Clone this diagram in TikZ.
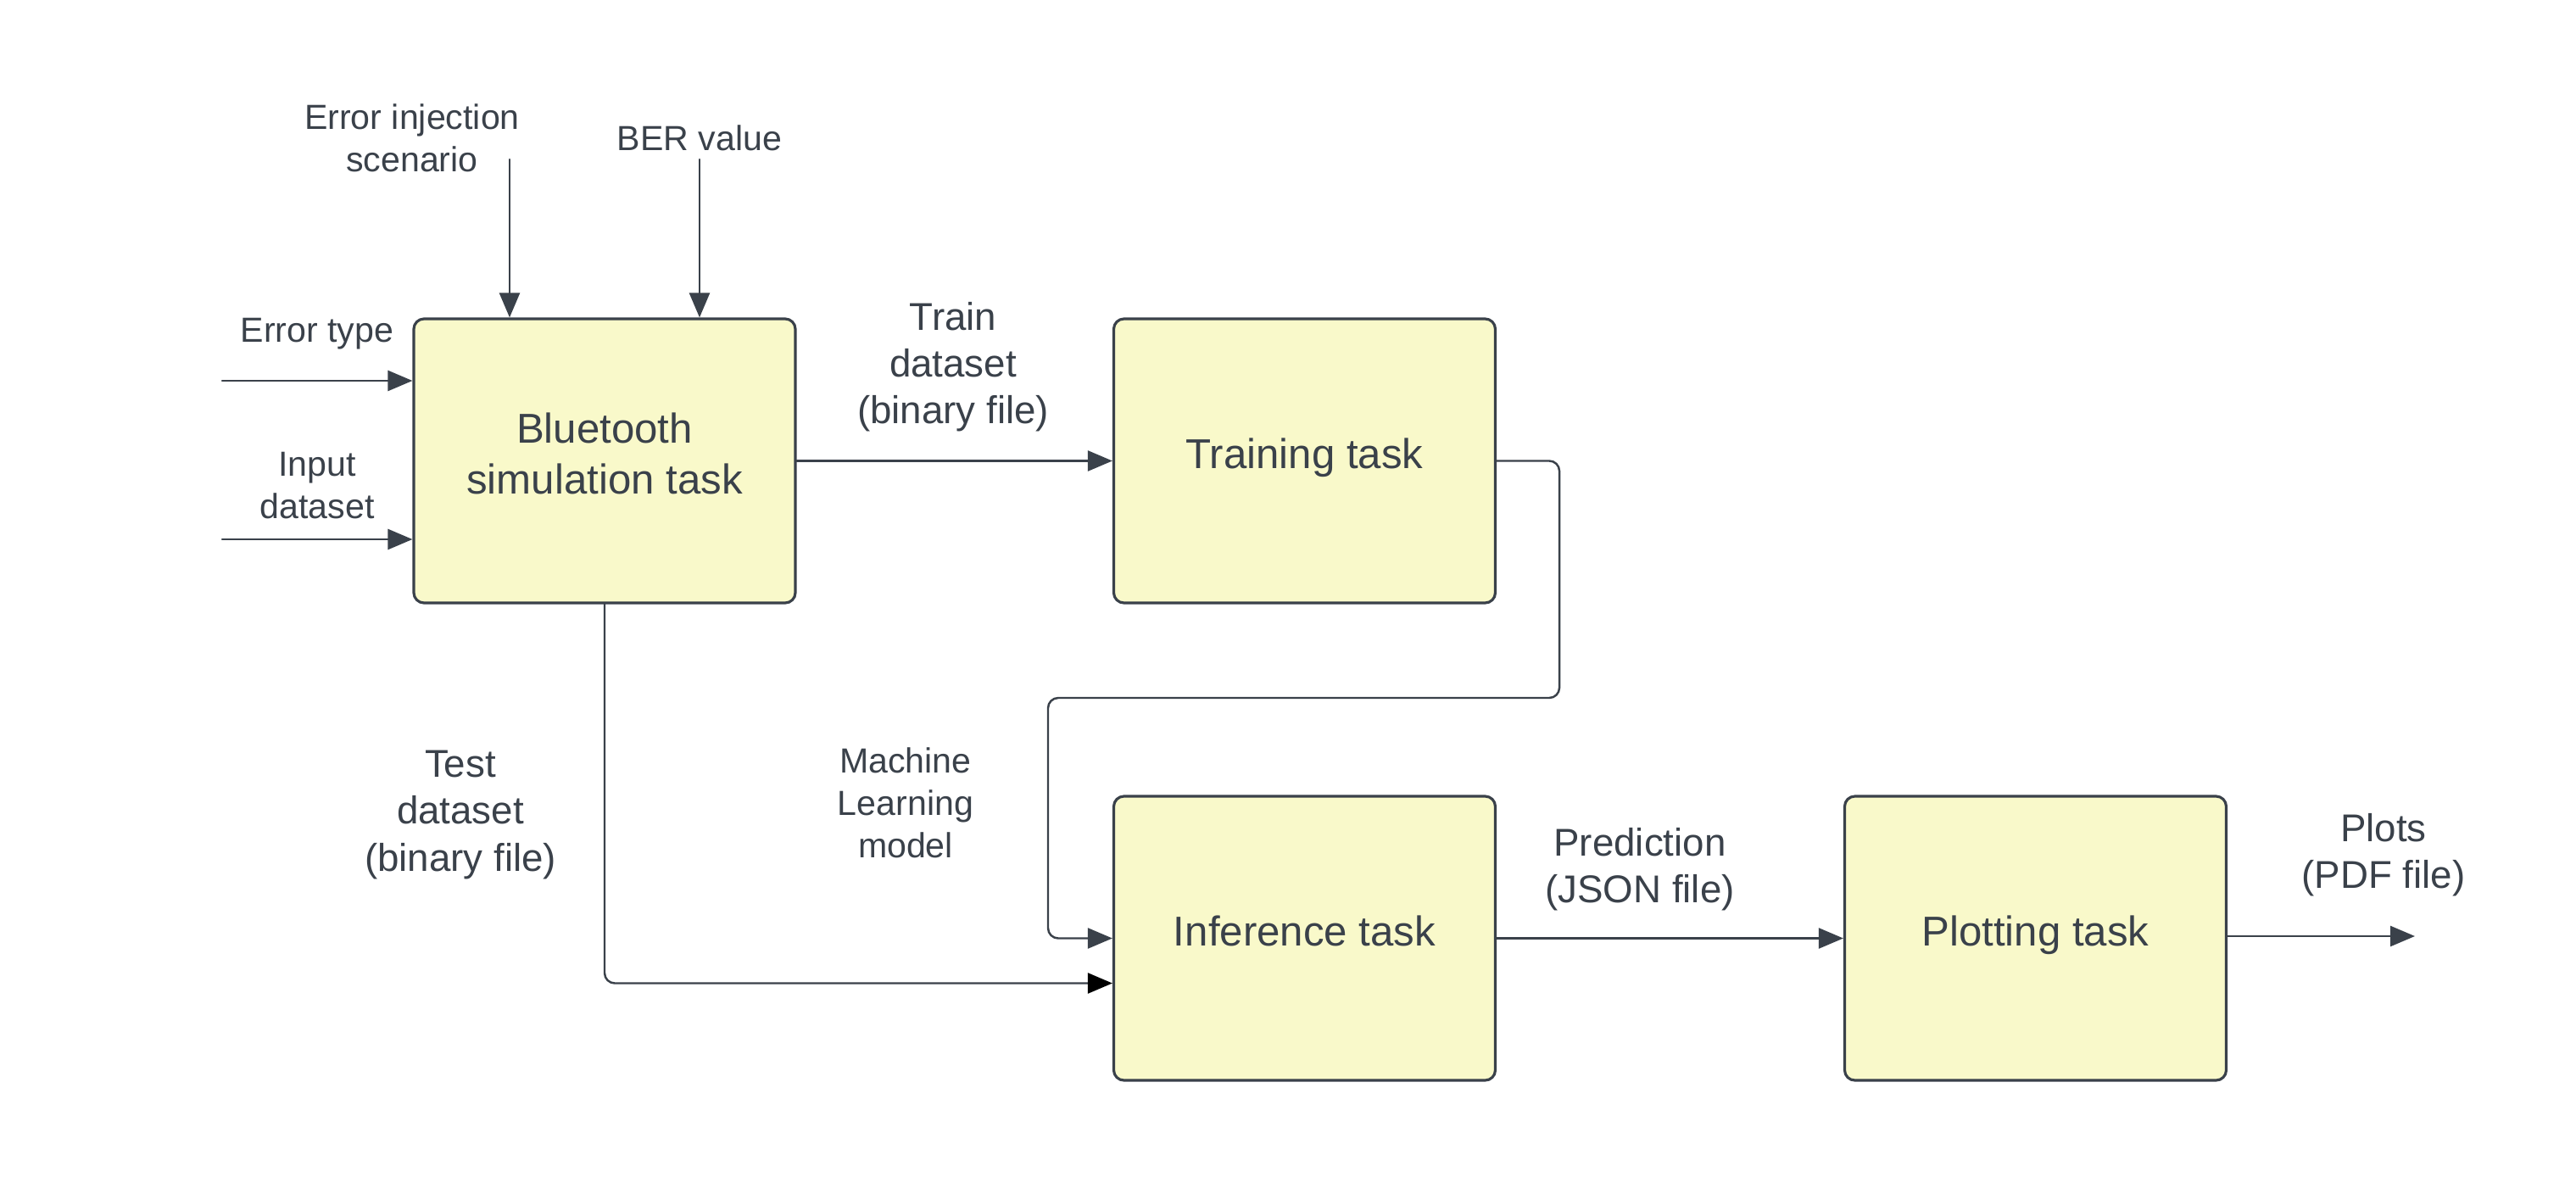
\documentclass[tikz,border=0pt]{standalone}
\usepackage{fontspec}
\setmainfont{Liberation Sans}
\usetikzlibrary{arrows.meta}
\definecolor{inkgray}{RGB}{58,65,74}
\definecolor{taskfill}{RGB}{249,249,202}
\tikzset{
	task/.style={draw=inkgray,fill=taskfill,line width=0.9pt,rounded corners=0.12cm,minimum width=4.5cm,minimum height=3.35cm,text depth=5pt,align=center,text=inkgray,font=\fontsize{14}{17}\selectfont},
	lbl/.style={text=inkgray,align=center,font=\fontsize{11.7}{14.2}\selectfont},
	biglbl/.style={text=inkgray,align=center,font=\fontsize{13}{15.7}\selectfont},
	flow/.style={draw=inkgray,line width=0.7pt,rounded corners=0.12cm,-{Triangle[length=0.29cm,width=0.24cm]}},
	blackflow/.style={flow,-{Triangle[length=0.29cm,width=0.24cm,color=black]}}
}
\begin{document}
\begin{tikzpicture}[line cap=round,line join=round,x=1.0cm,y=1.0cm]
				\useasboundingbox (0,0) rectangle (30.38,-13.88);
				\node[task] (bt) at (7.13,-5.435) {Bluetooth\\simulation task};
				\node[task] (train) at (15.385,-5.435) {Training task};
				\node[task] (infer) at (15.385,-11.065) {Inference task};
				\node[task] (plot) at (24.005,-11.065) {Plotting task};
				\coordinate (errin) at (2.62,-4.49);
				\coordinate (datain) at (2.62,-6.36);
				\coordinate (scenin) at (6.01,-1.88);
				\coordinate (berin) at (8.25,-1.88);
				\coordinate (mlbend) at (12.36,-8.23);
				\coordinate (plotsout) at (28.48,-11.04);
				\draw[flow] (errin) -- (bt.west |- errin);
				\draw[flow] (datain) -- (bt.west |- datain);
				\draw[flow] (scenin) -- (scenin |- bt.north);
				\draw[flow] (berin) -- (berin |- bt.north);
				\draw[flow] (bt) -- (train);
				\draw[flow] (train.east) -- ++(0.74,0) |- (mlbend) |- (infer.west);
				\draw[blackflow] (bt.south) |- ([yshift=-0.53cm]infer.west);
				\draw[flow] (infer) -- (plot);
				\draw[flow] (plot.east |- plotsout) -- (plotsout);
				\node[lbl] (scenlbl) at (4.86,-1.63) {Error injection\\scenario};
				\node[lbl] (berlbl) at (8.25,-1.63) {BER value};
				\node[lbl] (errlbl) at (3.74,-3.94) {Error type};
				\node[lbl] (datalbl) at (3.74,-5.73) {Input\\dataset};
				\node[biglbl] (trainlbl) at (11.24,-4.33) {Train\\dataset\\(binary file)};
				\node[biglbl] (testlbl) at (5.43,-9.61) {Test\\dataset\\(binary file)};
				\node[lbl] (mllbl) at (10.68,-9.47) {Machine\\Learning\\model};
				\node[biglbl] (predlbl) at (19.34,-10.25) {Prediction\\(JSON file)};
				\node[biglbl] (plotslbl) at (28.11,-10.08) {Plots\\(PDF file)};
			\end{tikzpicture}
\end{document}
